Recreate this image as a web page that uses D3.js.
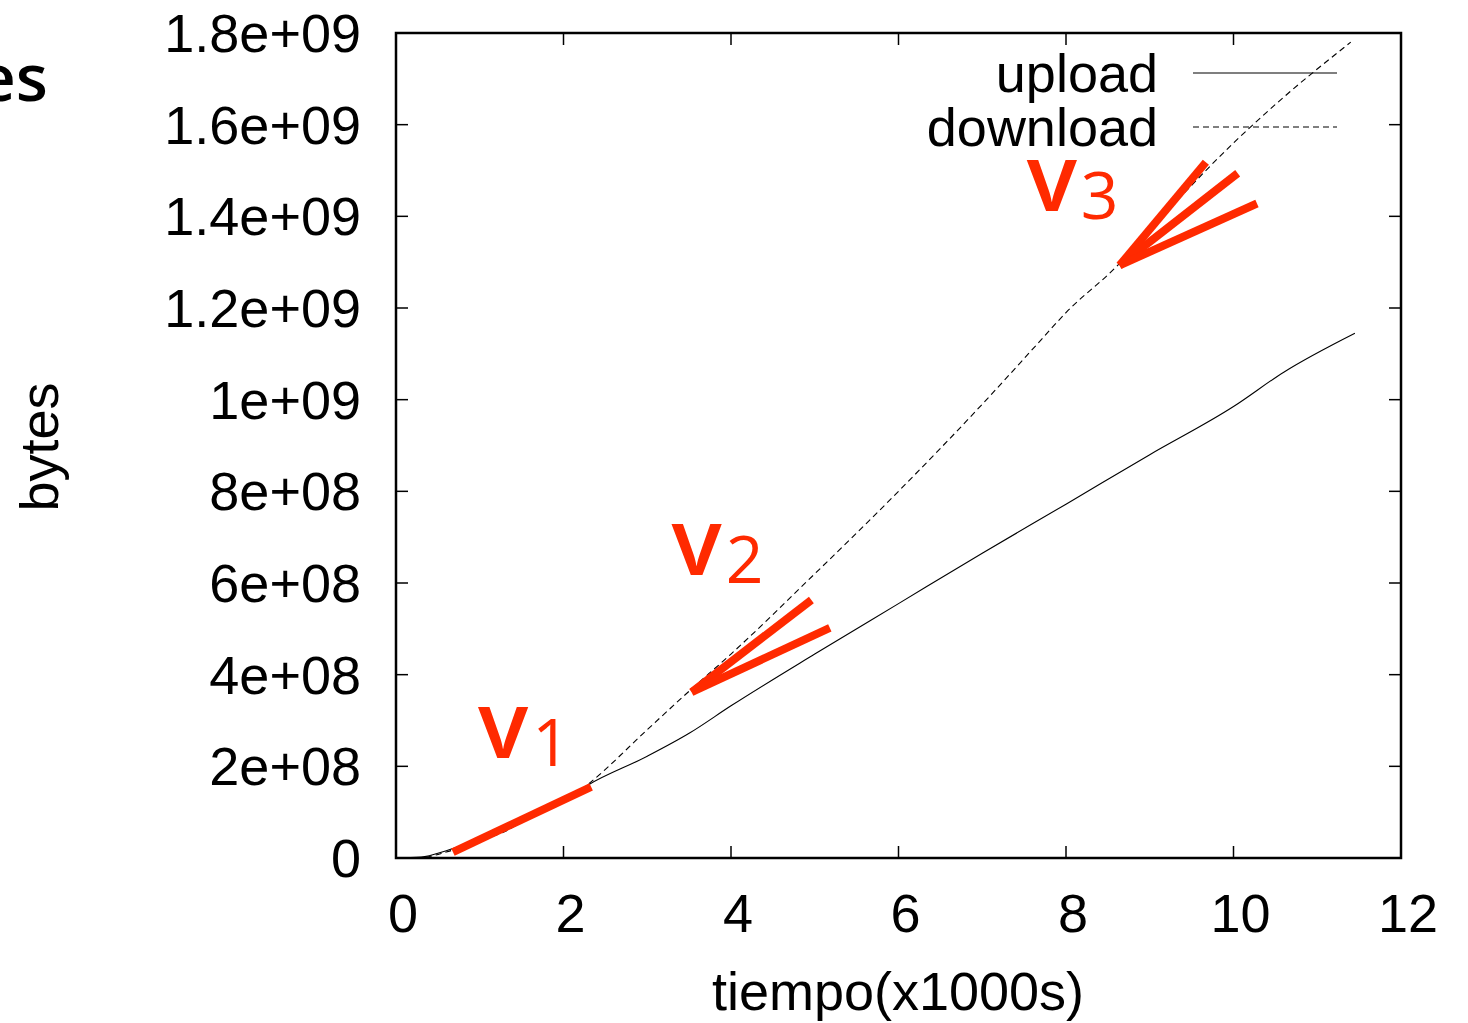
<!DOCTYPE html>
<html>
<head>
<meta charset="utf-8">
<script src="https://cdn.jsdelivr.net/npm/d3@7"></script>
<style>
  body { margin: 0; background: #fff; }
  svg { display: block; }
</style>
</head>
<body>
<script>
'use strict';

// data (x in thousands of seconds, y in bytes)
const uploadTime = [0, 0.3, 0.6, 1.0, 1.3, 1.6, 2.0, 2.3, 3.0, 3.5, 4.0, 5.0, 6.0, 7.0, 8.0, 9.0, 10.0, 10.6, 11.45];
const uploadBytes = [0, 2e6, 1.6e7, 4.2e7, 6.2e7, 9.0e7, 1.25e8, 1.6e8, 2.22e8, 2.72e8, 3.32e8, 4.45e8, 5.55e8, 6.65e8, 7.72e8, 8.8e8, 9.85e8, 1.06e9, 1.145e9];
const downloadTime = [0, 0.3, 0.6, 1.0, 1.3, 1.6, 2.0, 2.3, 3.0, 3.5, 4.0, 5.0, 6.0, 7.0, 7.7, 8.0, 8.6, 9.0, 10.0, 10.6, 11.4];
const downloadBytes = [0, 1e6, 1.3e7, 3.8e7, 5.8e7, 8.8e7, 1.22e8, 1.62e8, 2.8e8, 3.64e8, 4.45e8, 6.2e8, 8.0e8, 9.9e8, 1.13e9, 1.19e9, 1.29e9, 1.37e9, 1.56e9, 1.66e9, 1.78e9];

// red slope annotations: [x1, y1, x2, y2]
const slopeMarks = [
  [0.68, 1.3e7, 2.33, 1.55e8],
  [3.53, 3.62e8, 4.96, 5.63e8],
  [3.53, 3.62e8, 5.18, 5.02e8],
  [8.64, 1.293e9, 9.67, 1.518e9],
  [8.64, 1.293e9, 10.05, 1.494e9],
  [8.64, 1.293e9, 10.28, 1.428e9]
];
const slopeLabels = ["1", "2", "3"];
const slopeLabelX = [0.98, 3.29, 7.53];
const slopeLabelY = [2.18e8, 6.17e8, 1.412e9];

const xTicks = [0, 2, 4, 6, 8, 10, 12];
const yTicks = [0, 2e8, 4e8, 6e8, 8e8, 1e9, 1.2e9, 1.4e9, 1.6e9, 1.8e9];
const yTickLabels = ["0", "2e+08", "4e+08", "6e+08", "8e+08", "1e+09", "1.2e+09", "1.4e+09", "1.6e+09", "1.8e+09"];
const seriesNames = ["upload", "download"];

(function() {
  const W = 1468, H = 1023;
  const pLeft = 396, pRight = 1401, pTop = 33, pBottom = 858;
  const sans = "'Liberation Sans', Arial, Helvetica, sans-serif";
  const fs = "54px";
  const red = "#ff2a00";

  const svg = d3.select("body").append("svg").attr("width", W).attr("height", H);

  const x = d3.scaleLinear().domain([0, 12]).range([pLeft, pRight]);
  const y = d3.scaleLinear().domain([0, 1.8e9]).range([pBottom, pTop]);

  // clipped title fragment at top left
  svg.append("text")
    .attr("x", 48).attr("y", 101)
    .attr("text-anchor", "end")
    .style("font-family", "'Open Sans', sans-serif")
    .style("font-weight", "600")
    .style("font-size", "66px")
    .text("es");

  // tick marks (inward, mirrored on all sides)
  const tickLen = 12;
  const ticks = svg.append("g").attr("stroke", "#000").attr("stroke-width", 1.5);
  xTicks.forEach(t => {
    ticks.append("line").attr("x1", x(t)).attr("x2", x(t)).attr("y1", pBottom).attr("y2", pBottom - tickLen);
    ticks.append("line").attr("x1", x(t)).attr("x2", x(t)).attr("y1", pTop).attr("y2", pTop + tickLen);
  });
  yTicks.forEach(t => {
    ticks.append("line").attr("x1", pLeft).attr("x2", pLeft + tickLen).attr("y1", y(t)).attr("y2", y(t));
    ticks.append("line").attr("x1", pRight).attr("x2", pRight - tickLen).attr("y1", y(t)).attr("y2", y(t));
  });

  // tick labels
  svg.append("g").selectAll("text")
    .data(xTicks).enter().append("text")
    .attr("x", d => x(d) + 7)
    .attr("y", 932)
    .attr("text-anchor", "middle")
    .style("font-family", sans).style("font-size", fs)
    .text(d => d);

  svg.append("g").selectAll("text")
    .data(yTicks).enter().append("text")
    .attr("x", 361)
    .attr("y", d => y(d) + 19)
    .attr("text-anchor", "end")
    .style("font-family", sans).style("font-size", fs)
    .text((d, i) => yTickLabels[i]);

  // axis titles
  svg.append("text")
    .attr("x", 898).attr("y", 1010)
    .attr("text-anchor", "middle")
    .style("font-family", sans).style("font-size", fs)
    .text("tiempo(x1000s)");

  svg.append("text")
    .attr("transform", "translate(58,447)rotate(-90)")
    .attr("text-anchor", "middle")
    .style("font-family", sans).style("font-size", fs)
    .text("bytes");

  // series
  const line = d3.line().x(d => x(d[0])).y(d => y(d[1])).curve(d3.curveMonotoneX);
  svg.append("path")
    .datum(uploadTime.map((t, i) => [t, uploadBytes[i]]))
    .attr("d", line).attr("fill", "none")
    .attr("stroke", "#000").attr("stroke-width", 1.1);
  svg.append("path")
    .datum(downloadTime.map((t, i) => [t, downloadBytes[i]]))
    .attr("d", line).attr("fill", "none")
    .attr("stroke", "#000").attr("stroke-width", 1.1)
    .attr("stroke-dasharray", "6,4");

  // legend
  const legend = svg.append("g");
  seriesNames.forEach((name, i) => {
    const ly = 73 + i * 54;
    legend.append("text")
      .attr("x", 1158).attr("y", ly + 19)
      .attr("text-anchor", "end")
      .style("font-family", sans).style("font-size", fs)
      .text(name);
    legend.append("line")
      .attr("x1", 1193).attr("x2", 1337).attr("y1", ly).attr("y2", ly)
      .attr("stroke", "#000").attr("stroke-width", 1.1)
      .attr("stroke-dasharray", i === 1 ? "6,4" : null);
  });

  // frame
  svg.append("rect")
    .attr("x", pLeft).attr("y", pTop)
    .attr("width", pRight - pLeft).attr("height", pBottom - pTop)
    .attr("fill", "none").attr("stroke", "#000").attr("stroke-width", 2.5);

  // red annotations
  svg.append("g").selectAll("line")
    .data(slopeMarks).enter().append("line")
    .attr("x1", d => x(d[0])).attr("y1", d => y(d[1]))
    .attr("x2", d => x(d[2])).attr("y2", d => y(d[3]))
    .attr("stroke", red).attr("stroke-width", 8);

  slopeLabels.forEach((lab, i) => {
    const t = svg.append("text")
      .attr("x", x(slopeLabelX[i])).attr("y", y(slopeLabelY[i]))
      .style("font-family", "'Open Sans', sans-serif")
      .style("font-weight", "600")
      .style("fill", red);
    t.append("tspan").style("font-size", "94px").text("v");
    t.append("tspan").attr("dx", 4).attr("dy", 8).style("font-size", "66px").style("font-weight", "400").text(lab);
  });
})();
</script>
</body>
</html>
